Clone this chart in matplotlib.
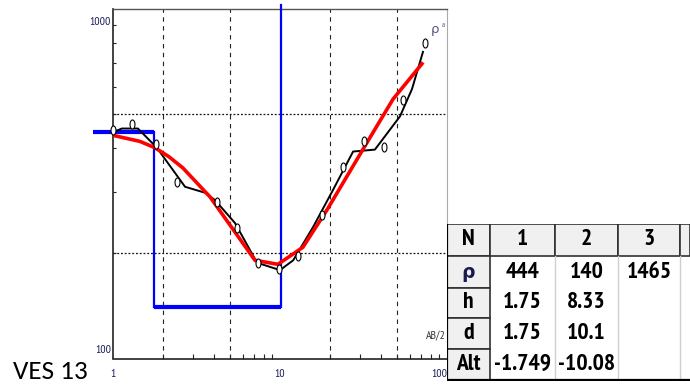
import numpy as np
import matplotlib.pyplot as plt
from matplotlib.patches import Rectangle
from matplotlib.ticker import LogLocator, NullFormatter
import matplotlib.transforms as mtransforms

# field data: apparent resistivity vs AB/2
ab2_obs = [1.0, 1.3, 1.81, 2.42, 4.2, 5.53, 7.38, 9.87, 12.8, 17.8, 23.8, 31.8, 42.0, 54.6, 73.8]
rho_obs = [452, 468, 410, 320, 281, 237, 187, 180, 196, 257, 354, 418, 402, 548, 800]

# smoothed field curve (black)
ab2_smooth = [1.0, 1.13, 1.41, 1.83, 2.70, 3.56, 4.08, 5.38, 7.28, 10.0, 12.0, 15.8,
              20.8, 27.4, 37.0, 52.3, 61.7, 71.8]
rho_smooth = [444, 455, 455, 401, 310, 298, 284, 244, 188, 179, 191, 238,
              304, 391, 396, 493, 590, 754]

# calculated curve (red)
ab2_calc = [1.0, 1.45, 1.78, 2.16, 2.62, 3.81, 7.08, 9.72, 13.7, 19.1, 33.2, 47.5, 70.8]
rho_calc = [435, 418, 401, 378, 351, 290, 191, 186, 208, 266, 415, 552, 697]

# layer model
layer_n = ["1", "2", "3"]
layer_rho = [444, 140, 1465]
layer_h = [1.75, 8.33]
layer_d = [1.75, 10.1]
layer_alt = [-1.749, -10.08]

W, H = 690, 390
fig = plt.figure(figsize=(W / 100, H / 100), dpi=100)
ax = fig.add_axes([113 / W, 31.5 / H, 334 / W, 349.5 / H])
ax.set_xscale("log")
ax.set_yscale("log")
ax.set_xlim(1, 100)
ax.set_ylim(100, 1000)

# grid
for gx in [2, 5, 20, 50]:
    ax.axvline(gx, color="#222222", lw=0.8, ls=(0, (4, 4)), zorder=1)
for gy in [200, 500]:
    ax.axhline(gy, color="#111111", lw=0.9, ls=(0, (1.5, 1.5)), zorder=1)

# model (blue)
x_left = ax.get_xlim()[0] * 0.76
y_top = ax.get_ylim()[1] * 1.03
blue = "#0000ff"
ax.plot([x_left, layer_d[0]], [layer_rho[0], layer_rho[0]], color=blue, lw=3, clip_on=False,
        zorder=3, solid_capstyle="butt")
ax.plot([layer_d[0], layer_d[1]], [layer_rho[1], layer_rho[1]], color=blue, lw=3, zorder=3,
        solid_capstyle="butt")
ax.plot([layer_d[0], layer_d[0]], [layer_rho[0], layer_rho[1]], color=blue, lw=1.6, zorder=3)
ax.plot([layer_d[1], layer_d[1]], [layer_rho[1], min(layer_rho[2], y_top)], color=blue, lw=1.6,
        clip_on=False, zorder=3)

# curves
ax.plot(ab2_smooth, rho_smooth, color="black", lw=1.4, zorder=4)
ax.plot(ab2_calc, rho_calc, color="#ff0000", lw=2.6, zorder=5, solid_joinstyle="round")
t = np.linspace(0, 2 * np.pi, 40)
ell = list(zip(0.55 * np.cos(t), np.sin(t)))
ax.plot(ab2_obs, rho_obs, ls="none", marker=ell, ms=6.5, mfc="white", mec="black", mew=0.8,
        zorder=6, clip_on=False)

# axes frame and ticks
for s in ["left", "bottom"]:
    ax.spines[s].set_color("#222222")
    ax.spines[s].set_linewidth(1.2)
ax.spines["top"].set_color("#555555")
ax.spines["top"].set_linewidth(1.0)
ax.spines["right"].set_color("#aaaaaa")
ax.spines["right"].set_linewidth(0.8)
ax.tick_params(which="major", length=0, labelleft=False, labelbottom=False)
ax.tick_params(axis="x", which="minor", direction="in", length=3.5, width=0.8, color="#222222")
ax.tick_params(axis="y", which="minor", direction="in", length=2.5, width=0.8, color="#222222")
ax.xaxis.set_minor_locator(LogLocator(base=10, subs=np.arange(2, 10)))
ax.yaxis.set_minor_locator(LogLocator(base=10, subs=np.arange(2, 10)))
ax.xaxis.set_minor_formatter(NullFormatter())
ax.yaxis.set_minor_formatter(NullFormatter())

narrow = ["PT Sans Narrow", "DejaVu Sans"]
lab_col = "#1c1c5c"
bt = mtransforms.blended_transform_factory(ax.transData, ax.transAxes)
for xv, ha in [(1, "center"), (10, "center"), (100, "right")]:
    ax.text(xv, -0.044, str(xv), transform=bt, ha=ha, va="center", fontsize=8.5,
            family=narrow, color=lab_col)
ax.text(-0.006, 0.963, "1000", transform=ax.transAxes, ha="right", va="center", fontsize=8.5,
        family=narrow, color=lab_col)
ax.text(-0.006, 0.024, "100", transform=ax.transAxes, ha="right", va="center", fontsize=8.5,
        family=narrow, color=lab_col)
ax.text(0.964, 0.94, "ρ", transform=ax.transAxes, ha="center", va="center", fontsize=9.5,
        family=narrow, color="#55557a")
ax.text(0.988, 0.952, "a", transform=ax.transAxes, ha="center", va="center", fontsize=5.5,
        family=narrow, color="#55557a")
ax.text(0.997, 0.067, "AB/2", transform=ax.transAxes, ha="right", va="center", fontsize=8.5,
        family=narrow, color="#333333")

fig.text(13 / W, 11 / H, "VES 13", ha="left", va="baseline", fontsize=19.5,
         family=["Carlito", "DejaVu Sans"])

# parameter table
tax = fig.add_axes([447 / W, 9 / H, 243 / W, 157 / H])
tax.set_xlim(0, 243)
tax.set_ylim(157, 0)
tax.axis("off")
col_x = [0, 43, 108, 171, 233, 243]
row_y = [0, 32, 64, 94, 125, 156]
gray = "#f0f0f0"
edge = "#303030"
tfont = dict(family=narrow, fontsize=17, fontweight="bold", color="black",
             ha="center", va="center")

header = ["N"] + layer_n + [""]
for j in range(5):
    x0, x1 = col_x[j], col_x[j + 1]
    tax.add_patch(Rectangle((x0, row_y[0]), x1 - x0, row_y[1] - row_y[0], fc=gray, ec=edge, lw=1.2))
    tax.text((x0 + x1) / 2, (row_y[0] + row_y[1]) / 2, header[j], **tfont)

rows = [("ρ", layer_rho),
        ("h", layer_h + [None]),
        ("d", layer_d + [None]),
        ("Alt", layer_alt + [None])]
for i, (name, vals) in enumerate(rows, start=1):
    y0, y1 = row_y[i], row_y[i + 1]
    tax.add_patch(Rectangle((col_x[0], y0), col_x[1] - col_x[0], y1 - y0, fc=gray, ec=edge, lw=1.2))
    if name == "ρ":
        tax.text((col_x[0] + col_x[1]) / 2, (y0 + y1) / 2 + 1, name,
                 **{**tfont, "color": "#1a1a50", "fontsize": 13.5})
    else:
        tax.text((col_x[0] + col_x[1]) / 2, (y0 + y1) / 2, name, **tfont)
    for j, v in enumerate(vals):
        if v is not None:
            tax.text((col_x[j + 1] + col_x[j + 2]) / 2, (y0 + y1) / 2, str(v), **tfont)

for j in [2, 3, 4]:
    tax.plot([col_x[j], col_x[j]], [row_y[1], row_y[5]], color="#cfcfcf", lw=1.0)
tax.plot([0, 243], [row_y[5], row_y[5]], color="black", lw=1.6)
tax.plot([0, 0], [row_y[0], row_y[5]], color="black", lw=1.6)

fig.savefig("out.png", dpi=100)
